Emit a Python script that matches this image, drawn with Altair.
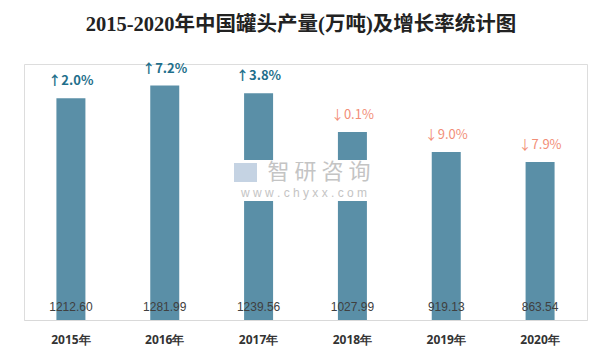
import altair as alt
import pandas as pd

years = ["2015年", "2016年", "2017年", "2018年", "2019年", "2020年"]
output = [1212.60, 1281.99, 1239.56, 1027.99, 919.13, 863.54]
growth = [2.0, 7.2, 3.8, -0.1, -9.0, -7.9]
title_text = "2015-2020年中国罐头产量(万吨)及增长率统计图"

df = pd.DataFrame({"year": years, "output": output, "growth": growth})
df["value_label"] = [f"{v:.2f}" for v in output]
df["growth_label"] = [("↑" if g > 0 else "↓") + f"{abs(g):.1f}%" for g in growth]
df["dir"] = ["up" if g > 0 else "down" for g in growth]

W, H = 563, 256
BAR = "#5a8fa7"

x_enc = alt.X(
    "year:N", sort=years,
    scale=alt.Scale(paddingInner=0, paddingOuter=0),
    axis=alt.Axis(title=None, ticks=False, grid=False, labelAngle=0,
                  domainColor="#d9d9d9", domainWidth=1,
                  labelFont="Noto Sans", labelFontSize=12, labelFontWeight="bold",
                  labelColor="#333333", labelPadding=14),
)
y_scale = alt.Scale(domain=[0, 1400])

base = alt.Chart(df).encode(x=x_enc)

bars = base.mark_bar(size=29, color=BAR).encode(
    y=alt.Y("output:Q", scale=y_scale, axis=None)
)

values = base.mark_text(baseline="middle", dy=-13, font="Liberation Sans",
                        fontSize=12, color="#404040").encode(
    y=alt.datum(0), text="value_label:N"
)

LABEL_FONT = "Noto Sans CJK SC"
up = base.transform_filter(alt.datum.dir == "up").mark_text(
    baseline="middle", dy=-17, font=LABEL_FONT, fontSize=13,
    fontWeight="bold", color="#1f6f8b").encode(
    y=alt.Y("output:Q"), text="growth_label:N"
)
down = base.transform_filter(alt.datum.dir == "down").mark_text(
    baseline="middle", dy=-17, font=LABEL_FONT, fontSize=13,
    color="#f28e77").encode(
    y=alt.Y("output:Q"), text="growth_label:N"
)

deco = alt.Data(values=[{"t": title_text}])
title = alt.Chart(deco).mark_text(
    font="Liberation Serif, Noto Sans CJK SC", fontSize=20.5, fontWeight="bold",
    color="#222222", baseline="middle", align="center").encode(
    x=alt.value(277), y=alt.value(-39), text="t:N"
)

wm_bg = alt.Chart(deco).mark_rect(color="white").encode(
    x=alt.value(208), x2=alt.value(354), y=alt.value(96), y2=alt.value(137)
)
wm_logo = alt.Chart(deco).mark_rect(color="#c5d3e3").encode(
    x=alt.value(210), x2=alt.value(233), y=alt.value(99), y2=alt.value(118)
)
wm1 = alt.Chart(deco).mark_text(
    text="智 研 咨 询", font="Noto Sans CJK SC", fontSize=22, color="#c4c4c4",
    baseline="middle", align="center").encode(
    x=alt.value(295), y=alt.value(108)
)
wm2 = alt.Chart(deco).mark_text(
    text="w w w . c h y x x . c o m", font="Liberation Sans", fontSize=12,
    color="#c4c4c4", baseline="middle", align="center").encode(
    x=alt.value(280), y=alt.value(129)
)

chart = alt.layer(bars, wm_bg, wm_logo, wm1, wm2, values, up, down, title).properties(
    width=W, height=H,
    autosize=alt.AutoSizeParams(type="none"),
    padding={"left": 16, "top": 56, "right": 11, "bottom": 36},
).configure_view(stroke=None).configure(background="white")

chart.save("out.html", embed_options={"renderer": "svg", "actions": False})
